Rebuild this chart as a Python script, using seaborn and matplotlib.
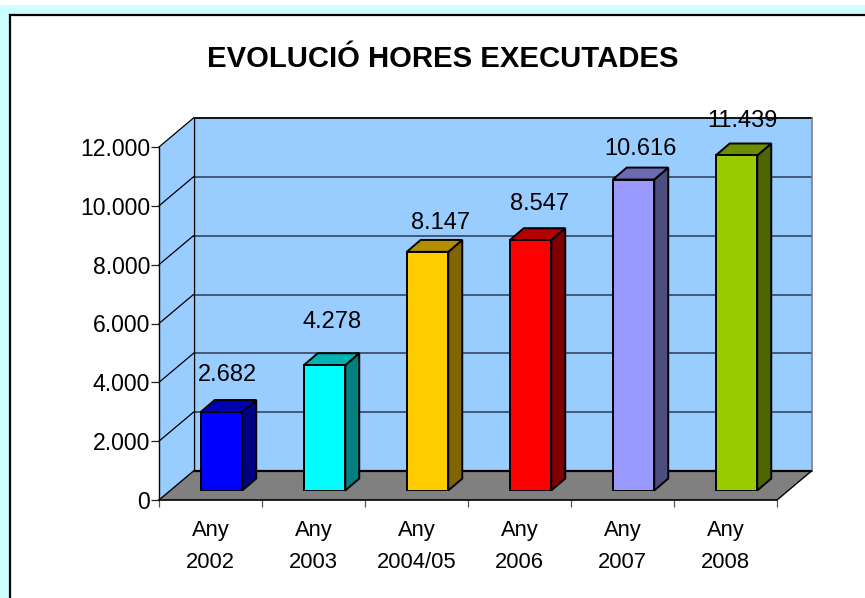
import matplotlib
matplotlib.use("Agg")
import matplotlib.pyplot as plt
import pandas as pd
import seaborn as sns
from matplotlib.patches import Polygon, Rectangle

categories = ["Any\n2002", "Any\n2003", "Any\n2004/05", "Any\n2006", "Any\n2007", "Any\n2008"]
hours = [2682, 4278, 8147, 8547, 10616, 11439]
y_ticks = [0, 2000, 4000, 6000, 8000, 10000, 12000]
front_colors = ["#0000FF", "#00FFFF", "#FFCC00", "#FF0000", "#9999FF", "#99CC00"]
side_colors = ["#000080", "#008080", "#806600", "#800000", "#4D4D80", "#4D6600"]
top_colors = ["#0000B3", "#00B3B3", "#B38F00", "#B30000", "#6B6BB3", "#6B8F00"]
# label offset from the top centre of the bar, in pixels
label_dx = [6, 8, 13, 9, 7, 6]
label_dy = [37, 43, 29, 36, 31, 34]

W, H = 865, 598


def fmt(v):
    return f"{v:,}".replace(",", ".")


def axes_rect(left, right, top, bottom):
    return [left / W, 1 - bottom / H, (right - left) / W, (bottom - top) / H]


def page_rect(fig, x0, y0, x1, y1, **kw):
    fig.add_artist(Rectangle((x0 / W, 1 - y1 / H), (x1 - x0) / W, (y1 - y0) / H,
                             transform=fig.transFigure, **kw))


sns.set_theme(style="white")
plt.rcParams["font.family"] = ["Liberation Sans", "DejaVu Sans"]

fig = plt.figure(figsize=(W / 100, H / 100), dpi=100)
fig.patch.set_facecolor("white")

# Page background and frame, behind the axes
page_rect(fig, 0, 5, W, H, facecolor="#CCFFFF", edgecolor="none", zorder=-2)
page_rect(fig, 10, 15, W + 5, H + 5, facecolor="white", edgecolor="black", linewidth=1.6, zorder=-1)

# Front plane of the 3D box: carries the ticks
ax = fig.add_axes(axes_rect(159, 777, 147, 500))
ax.patch.set_alpha(0)
ax.set_xlim(-0.5, 5.5)
ax.set_ylim(0, 12000)
for s in ["top", "right", "left", "bottom"]:
    ax.spines[s].set_visible(False)

# Depth of the box in data units
dx = 34.5 / 103
dy = 29 / 353 * 12000
x0, x1 = -0.5, 5.5
ymax = 12000

ax.add_patch(Polygon([(x0 + dx, dy), (x1 + dx, dy), (x1 + dx, ymax + dy), (x0 + dx, ymax + dy)],
                     facecolor="#99CCFF", edgecolor="none", clip_on=False, zorder=1))
ax.add_patch(Polygon([(x0, 0), (x0 + dx, dy), (x0 + dx, ymax + dy), (x0, ymax)],
                     facecolor="#99CCFF", edgecolor="none", clip_on=False, zorder=1))
ax.add_patch(Polygon([(x0, 0), (x1, 0), (x1 + dx, dy), (x0 + dx, dy)],
                     facecolor="#808080", edgecolor="none", clip_on=False, zorder=1.5))

for v in y_ticks[1:]:
    is_top = v == ymax
    ax.plot([x0 + dx, x1 + dx], [v + dy, v + dy], clip_on=False, zorder=2,
            color="black" if is_top else "#3F4F6B", lw=1.3)
    ax.plot([x0, x0 + dx], [v, v + dy], color="black", lw=0.9, clip_on=False, zorder=2)

ax.plot([x0 + dx, x1 + dx], [dy, dy], color="black", lw=1.6, clip_on=False, zorder=2)
ax.plot([x0, x0], [0, ymax], color="black", lw=1.0, clip_on=False, zorder=2)
ax.plot([x0 + dx, x0 + dx], [dy, ymax + dy], color="black", lw=1.0, clip_on=False, zorder=2)
ax.plot([x1 + dx, x1 + dx], [dy, ymax + dy], color="#808080", lw=1.2, clip_on=False, zorder=2)
ax.plot([x0, x1], [0, 0], color="black", lw=1.2, clip_on=False, zorder=2)
ax.plot([x0, x0 + dx], [0, dy], color="black", lw=1.0, clip_on=False, zorder=2)
ax.plot([x1, x1 + dx], [0, dy], color="black", lw=1.0, clip_on=False, zorder=2)

ax.set_yticks(y_ticks)
ax.set_yticklabels([fmt(v) for v in y_ticks])
ax.set_xticks(range(6))
ax.set_xticklabels(categories, linespacing=1.68)
ax.set_xticks([i - 0.5 for i in range(7)], minor=True)
ax.tick_params(axis="y", which="major", left=True, length=5.5, width=0.9, color="#222222",
               labelsize=16.6, pad=1.0, labelcolor="black")
ax.tick_params(axis="x", which="major", length=0, labelsize=15.8, pad=14.5, labelcolor="black")
ax.tick_params(axis="x", which="minor", bottom=True, length=5, width=0.9, color="#555555")

# Bars stand a little inside the box, so their axes is the front plane shifted
bar_ax = fig.add_axes(axes_rect(159 + 11, 777 + 11, 139, 490.5))
bar_ax.patch.set_alpha(0)
df = pd.DataFrame({"cat": categories, "hours": hours})
sns.barplot(data=df, x="cat", y="hours", hue="cat", palette=front_colors, saturation=1,
            width=41.5 / 103, edgecolor="black", linewidth=1.4, legend=False, ax=bar_ax, zorder=4)
bar_ax.set_xlim(-0.5, 5.5)
bar_ax.set_ylim(0, 12000)
bar_ax.axis("off")

bx = 14 / 103
by = 12 / 353 * 12000
for i, bar in enumerate(list(bar_ax.patches)):
    l, r, t = bar.get_x(), bar.get_x() + bar.get_width(), bar.get_height()
    bar_ax.add_patch(Polygon([(r, 0), (r + bx, by), (r + bx, t + by), (r, t)], closed=True,
                             facecolor=side_colors[i], edgecolor="black", linewidth=1.4,
                             clip_on=False, zorder=3))
    bar_ax.add_patch(Polygon([(l, t), (r, t), (r + bx, t + by), (l + bx, t + by)], closed=True,
                             facecolor=top_colors[i], edgecolor="black", linewidth=1.4,
                             clip_on=False, zorder=3))
    bar_ax.annotate(fmt(hours[i]), xy=((l + r) / 2, t), xytext=(label_dx[i], label_dy[i]),
                    textcoords="offset pixels", ha="center", va="center",
                    fontsize=17, color="black", annotation_clip=False, zorder=6)

fig.text(442.5 / W, 1 - 59 / H, "EVOLUCIÓ HORES EXECUTADES", ha="center", va="center",
         fontsize=21.1, fontweight="bold", color="black")

fig.savefig("out.png", dpi=100)
plt.close(fig)
